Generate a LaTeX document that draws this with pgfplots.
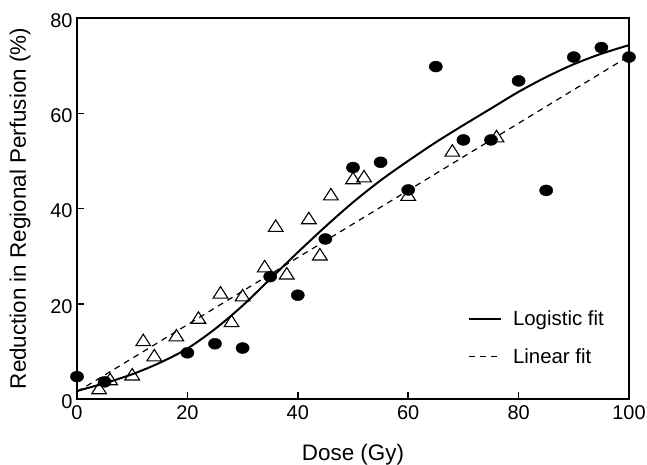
\documentclass[border=0pt]{standalone}
\usepackage{fontspec}
\setmainfont{Liberation Sans}
\usepackage{pgfplots}
\pgfplotsset{compat=1.18}
\begin{document}
\begin{tikzpicture}
\begin{axis}[
  at={(0,0)}, anchor=south west,
  scale only axis, width=552bp, height=381bp,
  xmin=0, xmax=100, ymin=0, ymax=80,
  xtick={0,20,...,100}, ytick={0,20,...,80},
  tick align=inside, xtick pos=left, ytick pos=left,
  major tick length=7bp,
  axis line style={line width=1.8bp},
  every tick/.style={line width=1.5bp, black},
  /pgf/number format/assume math mode=true,
  tick label style={font=\fontsize{20}{24}\selectfont},
  xticklabel style={yshift=-3bp},
  yticklabel style={xshift=-1bp, yshift=-2.5bp},
  label style={font=\fontsize{22.5}{26}\selectfont},
  xlabel={Dose (Gy)}, ylabel={Reduction in Regional Perfusion (\%)},
  xlabel style={at={(axis description cs:0.5,-0.147)}, anchor=center},
  ylabel style={at={(axis description cs:-0.103,0.5)}, anchor=center},
  clip=false,
  legend cell align=left,
  legend style={at={(axis cs:70.8,18.9)}, anchor=north west, draw=none, fill=none,
    inner sep=0pt, row sep=17bp, font=\fontsize{20.5}{24}\selectfont},
  legend image code/.code={\draw[#1] (0bp,0bp) -- (32bp,0bp); \path[draw=none] (0bp,0bp) -- (42bp,0bp);},
]
\addplot[black, line width=2bp, smooth] coordinates {
(0,1.7) (5,3.3) (10,5.2) (15,7.6) (20,10.6) (25,14.7) (30,19.6) (35,25.2)
(40,30.8) (45,36.2) (50,41.3) (55,45.9) (60,50.0) (65,53.9) (70,57.5)
(75,61.0) (80,64.5) (85,67.6) (90,70.3) (95,72.5) (100,74.3)};
\addlegendentry{Logistic fit}
\addplot[black, line width=1.2bp, dash pattern=on 6bp off 5bp] coordinates {
(0,1.5) (100,72)};
\addlegendentry{Linear fit}
\addplot[forget plot, only marks, mark=*, mark size=5.5bp,
  mark options={xscale=1.2, fill=black, draw=black}] coordinates {
(0,4.7) (5,3.6) (20,9.7) (25,11.6) (30,10.7) (35,25.7) (40,21.8) (45,33.6)
(50,48.6) (55,49.7) (60,43.9) (65,69.8) (70,54.4) (75,54.4) (80,66.8)
(85,43.8) (90,71.8) (95,73.8) (100,71.8)};
\addplot[forget plot, only marks, mark=triangle, mark size=8.5bp,
  mark options={yscale=0.9, fill=white, draw=black, line width=1.1bp}] coordinates {
(4,1.9) (6,3.8) (10,4.8) (12,12) (14,8.8) (18,13) (22,16.7) (26,22) (28,16)
(30,21.4) (34,27.5) (36,36) (38,26) (42,37.6) (44,30) (46,42.6) (50,46)
(52,46.4) (60,42.5) (68,51.8) (76,54.8)};
\end{axis}
\pgfresetboundingbox
\useasboundingbox (-77bp,-66bp) rectangle (570bp,399bp);
\end{tikzpicture}
\end{document}
